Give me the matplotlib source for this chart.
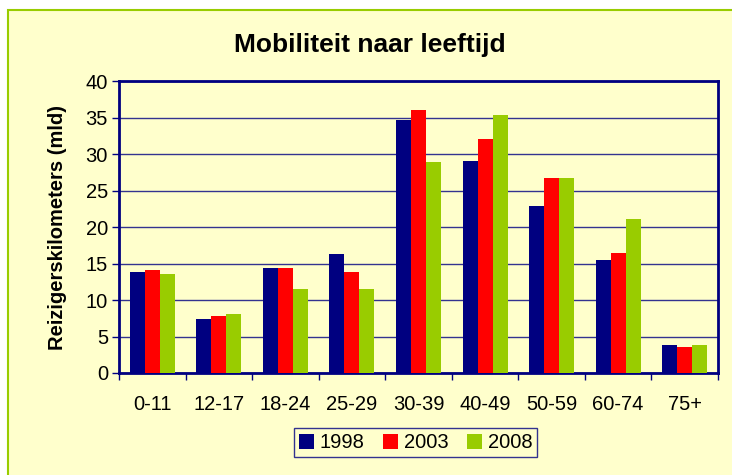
import numpy as np
import matplotlib.pyplot as plt
from matplotlib.patches import Rectangle

plt.rcParams['font.family'] = ['Liberation Sans', 'DejaVu Sans']

# ====================== DATA ======================
categories = ['0-11', '12-17', '18-24', '25-29', '30-39', '40-49', '50-59', '60-74', '75+']
years = ['1998', '2003', '2008']
km_1998 = [13.8, 7.4, 14.4, 16.3, 34.7, 29.0, 22.9, 15.5, 3.8]
km_2003 = [14.1, 7.8, 14.4, 13.9, 36.0, 32.1, 26.7, 16.4, 3.5]
km_2008 = [13.5, 8.1, 11.5, 11.5, 28.9, 35.3, 26.7, 21.1, 3.8]
colors = ['#000080', '#FF0000', '#99CC00']

bg = '#FFFFCC'
navy = '#000080'

fig = plt.figure(figsize=(7.32, 4.75), dpi=100)
fig.patch.set_facecolor('white')
# achtergrondkader (loopt rechts/onder door buiten beeld)
fig.patches.append(Rectangle((8 / 732, -0.05), 1.0, 1 - 10 / 475 + 0.05,
                             transform=fig.transFigure, facecolor=bg,
                             edgecolor='#99CC00', linewidth=1.5, zorder=-1))

ax = fig.add_axes([119 / 732, 1 - 373 / 475, (718 - 119) / 732, (373 - 81) / 475])
ax.set_facecolor(bg)

x = np.arange(len(categories))
w = 0.225
for i, (vals, year) in enumerate(zip([km_1998, km_2003, km_2008], years)):
    ax.bar(x + (i - 1) * w, vals, width=w, color=colors[i], label=year, zorder=3)

ax.set_xlim(-0.5, len(categories) - 0.5)
ax.set_ylim(0, 40)
ax.set_yticks(range(0, 41, 5))
ax.yaxis.grid(True, color=navy, linewidth=1, alpha=0.8, zorder=1)

ax.set_xticks(x)
ax.set_xticklabels(categories)
ax.set_xticks(np.arange(-0.5, len(categories)), minor=True)
ax.tick_params(axis='x', which='major', length=0, pad=16, labelsize=14.5)
ax.tick_params(axis='x', which='minor', length=5, color=navy, width=1)
ax.tick_params(axis='y', length=5, color=navy, width=1, labelsize=14.5, pad=3)

for s in ax.spines.values():
    s.set_color(navy)
    s.set_linewidth(2)

ax.set_ylabel('Reizigerskilometers (mld)', fontsize=14.5, fontweight='bold', labelpad=13)
fig.text(0.5 + 8 / 732 / 2, 1 - 45 / 475, 'Mobiliteit naar leeftijd',
         ha='center', va='center', fontsize=19, fontweight='bold')

leg = ax.legend(loc='upper center', bbox_to_anchor=(0.495, -0.155), ncol=3,
                fontsize=14.5, frameon=True, fancybox=False, handlelength=0.75,
                handleheight=0.75, handletextpad=0.3, columnspacing=0.9,
                borderpad=0.25)
leg.get_frame().set_edgecolor(navy)
leg.get_frame().set_facecolor(bg)
leg.get_frame().set_linewidth(1)

fig.savefig('out.png', dpi=100, facecolor=fig.get_facecolor())
